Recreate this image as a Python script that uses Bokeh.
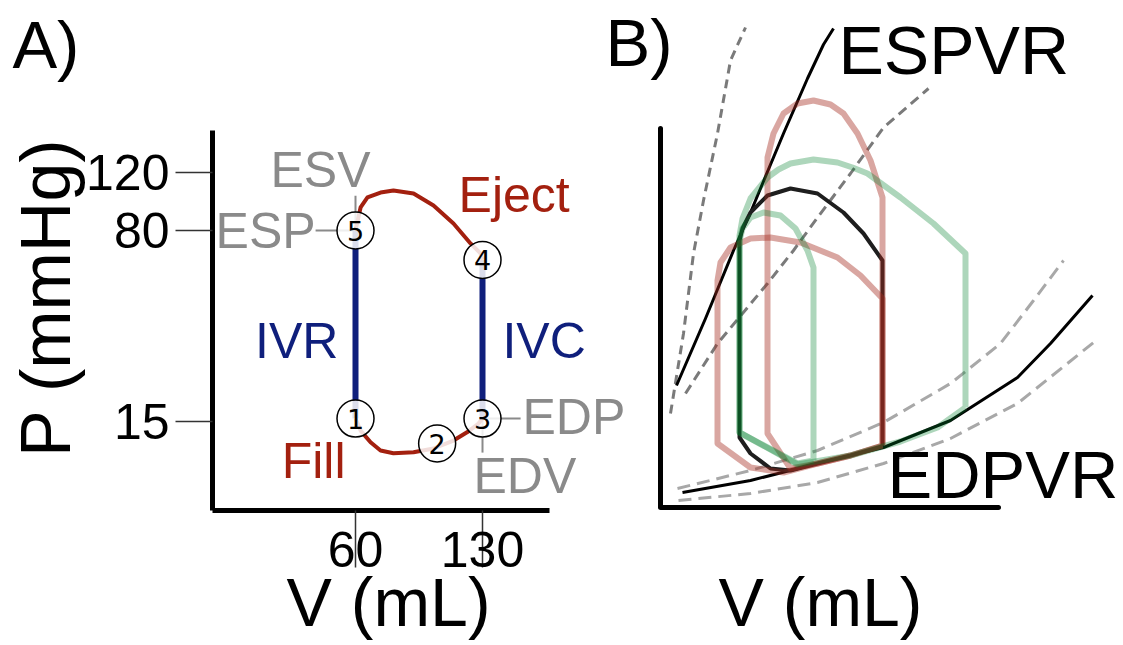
import numpy as np
from bokeh.plotting import figure
from bokeh.models import Range1d, FixedTicker, Label
from bokeh.embed import file_html
from bokeh.resources import INLINE
from bokeh.core.properties import value

FONT = "Liberation Sans"
RED = "#a3200f"
BLUE = "#0f1f7c"
GRAY = "#8a8a8a"

# ---------------- Panel A data (V in mL, P in mmHg) ----------------
# schematic (non-uniform) pressure axis: mmHg -> plot height
P_ANCHOR = [-70, 0, 15, 80, 120, 300]
Y_ANCHOR = [-160, 45, 89, 280, 338, 599]

def pmap(p):
    return np.interp(np.asarray(p, dtype=float), P_ANCHOR, Y_ANCHOR)

a_xticks = [60, 130]
a_yticks = [15, 80, 120]

eject_v = [60, 62.8, 66.6, 73.8, 80.9, 92, 103, 114, 123.4, 128.9, 130]
eject_p = [80, 95.9, 102.8, 106.2, 107.6, 105.5, 97.2, 84.8, 75.6, 72.2, 70]
fill_v = [60, 62.8, 68.3, 73.8, 80.9, 92, 103, 114, 121.7, 127.8, 130]
fill_p = [16, 11.9, 7.9, 5.1, 4.2, 4.5, 5.8, 8.5, 11.4, 14.3, 16]
ivr_v, ivr_p = [60, 60], [80, 16]
ivc_v, ivc_p = [130, 130], [70, 16]

pt_v = [60, 105, 130, 130, 60]
pt_p = [16, 7.5, 16, 70, 80]
pt_lab = ["1", "2", "3", "4", "5"]

esp_v, esp_p = [38, 60], [80, 80]
esv_v, esv_p = [60, 60], [104, 80]
edp_v, edp_p = [130, 151], [16, 16]
edv_v, edv_p = [130, 130], [16, 4.4]

# ---------------- Panel B data (V in mL, P in mmHg) ----------------
espvr_v = [8, 22.5, 36.5, 45, 61.5, 73.5, 81.5, 86.5]
espvr_p = [48.8, 75.6, 102.8, 118, 149.6, 171.6, 185.2, 191.6]
edpvr_v = [11, 45, 78.5, 111.5, 145, 178.5, 195, 216]
edpvr_p = [6, 10.8, 17.6, 24, 34.8, 52, 65.6, 84.8]

esp_hi_v = [5, 11.5, 16.5, 21.5, 28.5, 35, 42.5]
esp_hi_p = [37.6, 69.6, 101.6, 122.8, 149.6, 178.8, 192]
esp_lo_v = [12.5, 28.5, 53.5, 66.5, 78.5, 95, 111.5, 134]
esp_lo_p = [45.6, 65.6, 89.6, 102.8, 116, 133.6, 152, 167.6]
edp_hi_v = [8.5, 45, 78.5, 111.5, 145, 170, 186.5, 201.5]
edp_hi_p = [7.6, 14.8, 22.8, 34, 49.6, 65.6, 82.8, 98.8]
edp_lo_v = [9, 45, 78.5, 111.5, 145, 178.5, 219]
edp_lo_p = [2.8, 5.6, 10, 17.6, 27.6, 41.6, 67.6]

base_v = [111, 111, 101.5, 91.5, 78.5, 65, 53.5, 45, 41, 39.5, 39.5, 45, 55, 65, 78.5, 95, 111]
base_p = [24.5, 98.8, 109.6, 118, 125.6, 127.6, 124.8, 118, 111.6, 106.8, 28, 21.6, 15.6, 14.8, 17.6, 20.8, 24.5]

red_hi_v = [111, 111, 105, 98.5, 91.5, 85, 76.5, 68.5, 61.5, 56.5, 53.5, 53.5, 65, 78.5, 95, 111]
red_hi_p = [24.8, 124, 138.8, 149.6, 157.6, 161.2, 162.8, 161.6, 157.6, 149.6, 140, 29.6, 15.6, 17.6, 20.8, 24.8]
red_lo_v = [111, 111, 100, 88.5, 70, 55, 45, 35, 30, 28.5, 28.5, 45, 61.5, 78.5, 95, 111]
red_lo_p = [24.8, 83.6, 92.8, 100, 106, 108, 107.6, 104, 98, 90.8, 25.6, 16, 14, 17.6, 20.8, 24.8]

grn_lo_v = [76.5, 76.5, 73.5, 67.5, 60, 51.5, 45, 41, 39.5, 39.5, 68.5, 76.5]
grn_lo_p = [18.8, 96, 102.8, 111.6, 116.8, 118, 116, 111.6, 106.8, 30, 17.6, 18.8]
grn_hi_v = [152.5, 152.5, 136.5, 120, 103.5, 96, 88.5, 76.5, 65, 59, 53.5, 45, 41, 39.5, 39.5, 68.5, 95, 120, 138.5, 152.5]
grn_hi_p = [40, 101.6, 113.6, 124, 133.6, 136, 138, 139.2, 137.6, 135.2, 132, 123.6, 115.6, 108.8, 30, 17.2, 20.8, 26.4, 32, 40]

b_axis_vmax = 169
b_axis_pmax = 151.6

# ---------------- Figure ----------------
p = figure(width=1121, height=643, output_backend="svg", toolbar_location=None,
           title=None,
           x_range=Range1d(-135.67, 482.2), y_range=Range1d(-133, 510),
           min_border=0)
p.extra_x_ranges = {"bx": Range1d(-330, 230.5)}
p.extra_y_ranges = {"by": Range1d(-54.4, 202.8)}
p.outline_line_color = None
p.xgrid.visible = False
p.ygrid.visible = False
p.background_fill_color = "white"
p.border_fill_color = "white"

# axes of panel A (pinned inside the plot area)
xa = p.xaxis[0]
xa.ticker = FixedTicker(ticks=a_xticks)
xa.bounds = (-18.82, 166.9)
xa.fixed_location = 0
ya = p.yaxis[0]
ytick_pos = [int(round(float(pmap(t)))) for t in a_yticks]
ya.ticker = FixedTicker(ticks=ytick_pos)
ya.major_label_overrides = {pos: str(t) for pos, t in zip(ytick_pos, a_yticks)}
ya.bounds = (0, 380)
ya.fixed_location = -18.82
for ax in (xa, ya):
    ax.axis_line_width = 5
    ax.axis_line_color = "black"
    ax.major_tick_in = 0
    ax.minor_tick_in = 0
    ax.minor_tick_out = 0
    ax.major_tick_line_width = 1.5
    ax.major_tick_line_color = "#333333"
    ax.major_label_text_font = FONT
    ax.major_label_text_font_size = "50px"
    ax.major_label_text_color = "black"
xa.major_tick_out = 57
xa.major_label_standoff = -36
ya.major_tick_out = 37
ya.major_label_standoff = 6

# ----- Panel A marks -----
for vv, pp in ((esp_v, esp_p), (esv_v, esv_p), (edp_v, edp_p), (edv_v, edv_p)):
    p.line(vv, pmap(pp), line_color=GRAY, line_width=2)
p.line(ivr_v, pmap(ivr_p), line_color=BLUE, line_width=6)
p.line(ivc_v, pmap(ivc_p), line_color=BLUE, line_width=6)
p.line(eject_v, pmap(eject_p), line_color=RED, line_width=4, line_join="round")
p.line(fill_v, pmap(fill_p), line_color=RED, line_width=4, line_join="round")
p.scatter(pt_v, pmap(pt_p), marker="circle", size=37, fill_color="white", fill_alpha=0.85,
          line_color="black", line_width=1.5)
p.text(pt_v, pmap(pt_p), text=pt_lab, text_font=value("DejaVu Sans"), text_font_size="27px",
       text_align="center", text_baseline="middle", text_color="black")

def lab(x, y, text, size, color, align="left", angle=0.0, xr="default", yr="default"):
    p.add_layout(Label(x=x, y=y, text=text, text_font=FONT, text_font_size=f"{size}px",
                       text_color=color, text_align=align, text_baseline="middle",
                       angle=angle, x_range_name=xr, y_range_name=yr))

lab(40.7, 340.5, "ESV", 50, GRAY, "center")
lab(38, 279.5, "ESP", 50, GRAY, "right")
lab(116.8, 315.5, "Eject", 50, RED, "left")
lab(50.6, 169.5, "IVR", 50, BLUE, "right")
lab(141, 169.5, "IVC", 50, BLUE, "left")
lab(54.5, 49.5, "Fill", 50, RED, "right")
lab(152, 93.5, "EDP", 50, GRAY, "left")
lab(125, 34.5, "EDV", 50, GRAY, "left")
lab(-129.1, 466.5, "A)", 67, "black", "left")
lab(-110.6, 213, "P (mmHg)", 70, "black", "center", angle=np.pi / 2)
lab(78.2, -91, "V (mL)", 68, "black", "center")

# ----- Panel B marks -----
B = dict(x_range_name="bx", y_range_name="by")
p.line([0, 0, b_axis_vmax], [b_axis_pmax, 0, 0], line_color="black", line_width=5,
       line_cap="round", line_join="round", **B)
p.line(esp_hi_v, esp_hi_p, line_color="#7a7a7a", line_width=3, line_dash="9 6", **B)
p.line(esp_lo_v, esp_lo_p, line_color="#7a7a7a", line_width=3, line_dash="10 6", **B)
p.line(edp_hi_v, edp_hi_p, line_color="#a8a8a8", line_width=3, line_dash="13 7", **B)
p.line(edp_lo_v, edp_lo_p, line_color="#a8a8a8", line_width=3, line_dash="13 7", **B)
p.line(espvr_v, espvr_p, line_color="black", line_width=3, line_join="round", **B)
p.line(edpvr_v, edpvr_p, line_color="black", line_width=3, line_join="round", **B)
p.line(base_v, base_p, line_color="#1e1e1e", line_width=4, line_join="round", **B)
for vv, pp, col, al in ((red_hi_v, red_hi_p, "#a52a1e", 0.42), (red_lo_v, red_lo_p, "#a52a1e", 0.42),
                        (grn_lo_v, grn_lo_p, "#00802b", 0.32), (grn_hi_v, grn_hi_p, "#00802b", 0.32)):
    p.line(vv, pp, line_color=col, line_alpha=al, line_width=6, line_join="round", **B)

lab(-27.5, 186.2, "B)", 67, "black", "left", xr="bx", yr="by")
lab(89, 183.1, "ESPVR", 68, "black", "left", xr="bx", yr="by")
lab(113.5, 13.4, "EDPVR", 67, "black", "left", xr="bx", yr="by")
lab(80, -37.6, "V (mL)", 68, "black", "center", xr="bx", yr="by")

open("out.html", "w").write(file_html(p, INLINE))
